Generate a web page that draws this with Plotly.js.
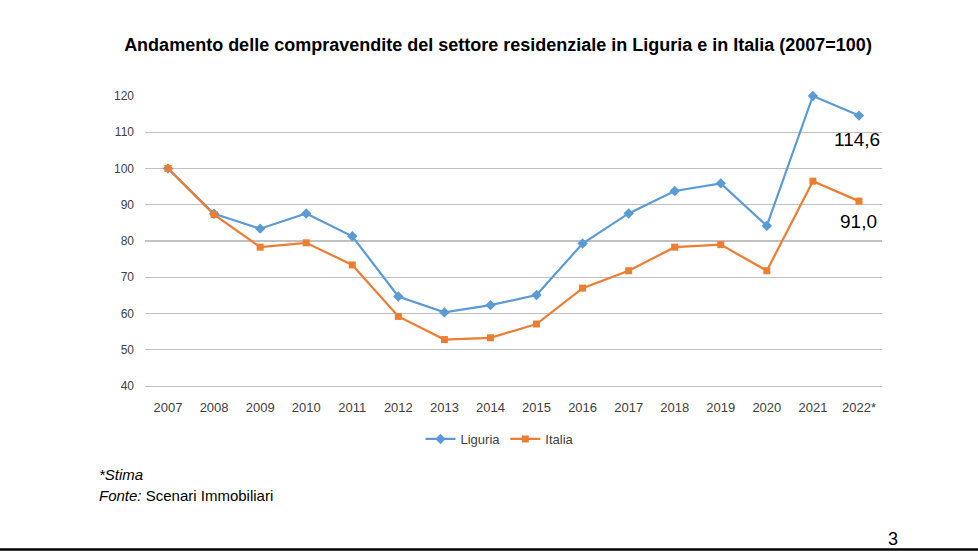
<!DOCTYPE html>
<html>
<head>
<meta charset="utf-8">
<script src="https://cdn.plot.ly/plotly-3.0.1.min.js"></script>
<style>
  html, body { margin: 0; padding: 0; background: #ffffff; }
  #chart { width: 978px; height: 552px; }
</style>
</head>
<body>
<div id="chart"></div>
<script>
// Indice compravendite residenziali (2007 = 100)
const years = ["2007", "2008", "2009", "2010", "2011", "2012", "2013", "2014",
               "2015", "2016", "2017", "2018", "2019", "2020", "2021", "2022*"];
const liguria = [100, 87.5, 83.4, 87.6, 81.3, 64.7, 60.3, 62.3,
                 65.1, 79.3, 87.6, 93.8, 95.9, 84.2, 120.0, 114.6];
const italia  = [100, 87.3, 78.3, 79.5, 73.4, 59.2, 52.8, 53.3,
                 57.1, 67.0, 71.8, 78.3, 79.0, 71.8, 96.5, 91.0];
const yTicks = [40, 50, 60, 70, 80, 90, 100, 110, 120];

const FONT = "Liberation Sans, Arial, sans-serif";
const BLUE = "#5b9bd5";
const ORANGE = "#ed7d31";
const GRID = "#c0c0c0";

const fmt = v => v.toFixed(1).replace(".", ",");
const last = years.length - 1;

const traces = [
  {
    x: years, y: liguria, name: "Liguria", type: "scatter", mode: "lines+markers",
    line: { color: BLUE, width: 2.2 },
    marker: { symbol: "diamond", size: 8, color: BLUE },
    cliponaxis: false
  },
  {
    x: years, y: italia, name: "Italia", type: "scatter", mode: "lines+markers",
    line: { color: ORANGE, width: 2.2 },
    marker: { symbol: "square", size: 7, color: ORANGE },
    cliponaxis: false
  }
];

const W = 978, H = 552;
const M = { l: 145, r: 96, t: 96, b: 166 };
const plotW = W - M.l - M.r;
const plotH = H - M.t - M.b;
// pixel position on the page -> paper coordinates
const px = x => (x - M.l) / plotW;
const py = y => (H - M.b - y) / plotH;

const layout = {
  width: W, height: H,
  margin: M,
  paper_bgcolor: "#ffffff", plot_bgcolor: "#ffffff",
  font: { family: FONT, size: 13, color: "#404040" },
  showlegend: true,
  title: {
    text: "<b>Andamento delle compravendite del settore residenziale in Liguria e in Italia (2007=100)</b>",
    font: { family: FONT, size: 18, color: "#000000" },
    x: 498 / W, xref: "container", xanchor: "center",
    y: 1 - 45 / H, yref: "container", yanchor: "middle"
  },
  xaxis: {
    type: "category", range: [-0.5, years.length - 0.5],
    showgrid: false, zeroline: false,
    showline: true, linecolor: GRID, linewidth: 1.3,
    ticks: "", ticklabelstandoff: 9,
    tickfont: { family: FONT, size: 13, color: "#404040" },
    fixedrange: true
  },
  yaxis: {
    range: [40, 120], tickvals: yTicks, ticktext: yTicks.map(String),
    showgrid: true, gridcolor: GRID, gridwidth: 1.3,
    zeroline: false, showline: false, ticks: "",
    ticklabelstandoff: 10,
    tickfont: { family: FONT, size: 12, color: "#404040" },
    fixedrange: true
  },
  legend: {
    orientation: "h", x: px(500), xanchor: "center",
    y: py(439), yanchor: "middle",
    font: { family: FONT, size: 13, color: "#404040" },
    itemwidth: 30, tracegroupgap: 0
  },
  annotations: [
    {
      x: years[last], y: liguria[last], xref: "x", yref: "y",
      text: fmt(liguria[last]), showarrow: false,
      xanchor: "center", yanchor: "top", yshift: -11, xshift: -2,
      font: { family: FONT, size: 19, color: "#000000" }
    },
    {
      x: years[last], y: italia[last], xref: "x", yref: "y",
      text: fmt(italia[last]), showarrow: false,
      xanchor: "center", yanchor: "top", yshift: -8,
      font: { family: FONT, size: 19, color: "#000000" }
    },
    {
      x: px(97), y: py(474), xref: "paper", yref: "paper",
      text: "<i>*Stima</i>", showarrow: false,
      xanchor: "left", yanchor: "middle",
      font: { family: FONT, size: 15, color: "#000000" }
    },
    {
      x: px(97), y: py(495), xref: "paper", yref: "paper",
      text: "<i>Fonte:</i> Scenari Immobiliari", showarrow: false,
      xanchor: "left", yanchor: "middle",
      font: { family: FONT, size: 15, color: "#000000" }
    },
    {
      x: px(893), y: py(539), xref: "paper", yref: "paper",
      text: "3", showarrow: false,
      xanchor: "center", yanchor: "middle",
      font: { family: FONT, size: 18, color: "#000000" }
    }
  ],
  shapes: [
    {
      // bottom rule across the full page width
      type: "line", xref: "paper", yref: "paper",
      x0: px(0), x1: px(W), y0: py(549.5), y1: py(549.5),
      line: { color: "#000000", width: 2.5 }
    }
  ]
};

Plotly.newPlot("chart", traces, layout, { displayModeBar: false, staticPlot: true });
</script>
</body>
</html>
